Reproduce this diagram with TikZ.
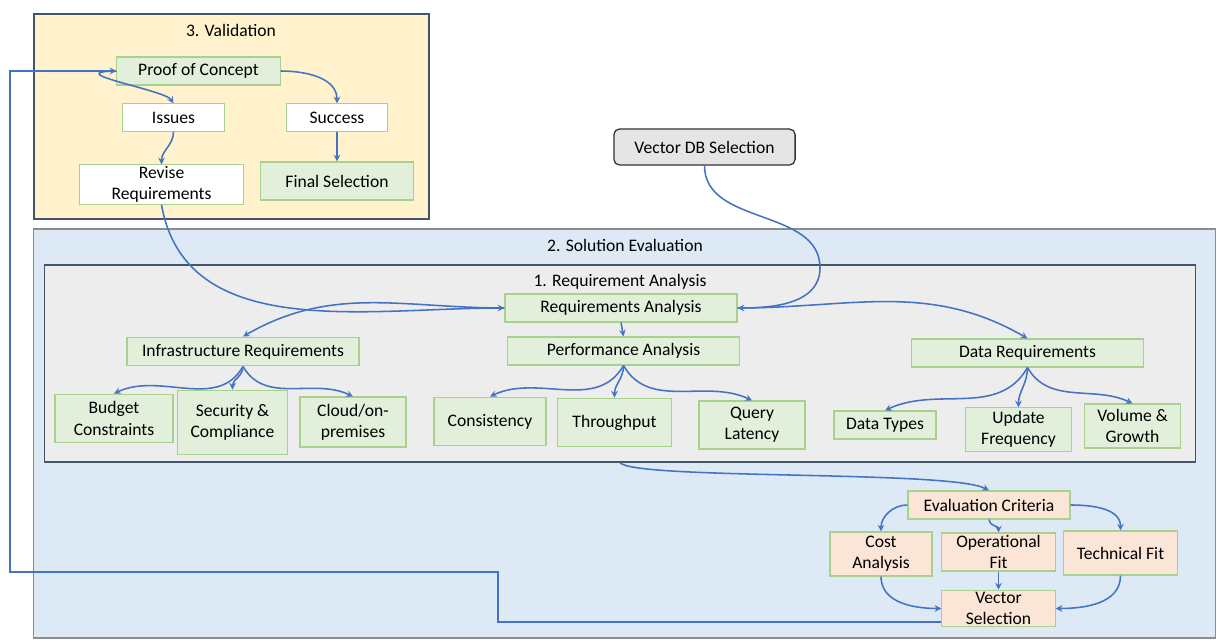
\documentclass[tikz,border=0pt]{standalone}
\usepackage{fontspec}
\setmainfont{Carlito}
\usetikzlibrary{positioning}
\definecolor{lnblue}{HTML}{4472C4}
\definecolor{grnfill}{HTML}{E2EFDA}
\definecolor{grnline}{HTML}{A9D18E}
\definecolor{orgfill}{HTML}{FBE5D6}
\definecolor{yelfill}{HTML}{FFF2CC}
\definecolor{bluefill}{HTML}{DEE9F6}
\definecolor{grayfill}{HTML}{EDEDED}
\definecolor{slate}{HTML}{44546A}
\tikzset{%
  arr/.style = {-stealth, lnblue, line width=1.1pt},
  gbox/.style = {rectangle, draw=grnline, fill=grnfill, line width=0.8pt,
        inner sep=0pt, align=center},
  wbox/.style = {gbox, fill=white},
  obox/.style = {gbox, fill=orgfill},
  frame/.style = {rectangle, inner sep=0pt, line width=0.9pt}
}

\begin{document}
\begin{tikzpicture}[x=0.025cm, y=-0.025cm,
  font=\fontsize{12.5}{15}\selectfont, text=black
]
\useasboundingbox (0,0) rectangle (1217,642);

\node[frame, draw=slate, fill=yelfill, minimum width=9.875cm,
      minimum height=5.125cm] (valbox) at (231.5,116.5) {};
\node (valtitle) at (231,30) {3. Validation};
\node[frame, draw=black!45, fill=bluefill, minimum width=29.525cm,
      minimum height=10.225cm] (solbox) at (624.5,433.5) {};
\node (soltitle) at (625,245) {2. Solution Evaluation};
\node[frame, draw=slate, fill=grayfill, minimum width=28.75cm,
      minimum height=4.925cm] (reqbox) at (620,363.5) {};
\node (reqtitle) at (620,282) {1. Requirement Analysis};

\node[gbox, minimum width=4.08cm, minimum height=0.7cm] (poc) at (198.5,71) {Proof of Concept};
\node[wbox, minimum width=2.53cm, minimum height=0.68cm] (issues) at (173.5,117.5) {Issues};
\node[wbox, minimum width=2.53cm, minimum height=0.68cm] (success) at (337,117.5) {Success};
\node[wbox, minimum width=4.08cm, minimum height=0.98cm] (revise) at (161.5,184.5) {Revise\\Requirements};
\node[gbox, minimum width=3.83cm, minimum height=0.95cm] (final) at (337,181) {Final Selection};

\node[rectangle, rounded corners=4pt, draw=black!80, fill=black!10, line width=0.9pt,
      minimum width=4.53cm, minimum height=0.9cm] (vdb) at (704.5,147) {Vector DB Selection};

\node[gbox, minimum width=5.8cm, minimum height=0.7cm] (reqa) at (621,308) {Requirements Analysis};
\node[gbox, minimum width=5.8cm, minimum height=0.72cm] (infra) at (243,351.5) {Infrastructure Requirements};
\node[gbox, minimum width=5.78cm, minimum height=0.7cm] (perf) at (623.5,351) {Performance Analysis};
\node[gbox, minimum width=5.78cm, minimum height=0.7cm] (datareq) at (1027.5,353) {Data Requirements};

\node[gbox, minimum width=2.95cm, minimum height=1.22cm] (budget) at (114,418.5) {Budget\\Constraints};
\node[gbox, minimum width=2.73cm, minimum height=1.62cm] (security) at (232.5,422.5) {Security \&\\Compliance};
\node[gbox, minimum width=2.65cm, minimum height=1.25cm] (cloud) at (353,422) {Cloud/on-\\premises};
\node[gbox, minimum width=2.8cm, minimum height=1.22cm] (consist) at (490,421.5) {Consistency};
\node[gbox, minimum width=2.83cm, minimum height=1.22cm] (thru) at (614.5,422.5) {Throughput};
\node[gbox, minimum width=2.65cm, minimum height=1.2cm] (query) at (752,425) {Query\\Latency};
\node[gbox, minimum width=2.55cm, minimum height=0.7cm] (dtypes) at (885,425) {Data Types};
\node[gbox, minimum width=2.63cm, minimum height=1.08cm] (update) at (1018.5,429.5) {Update\\Frequency};
\node[gbox, minimum width=2.38cm, minimum height=1.1cm] (volume) at (1132.5,426) {Volume \&\\Growth};

\node[obox, minimum width=4.05cm, minimum height=0.7cm] (evalc) at (989,505) {Evaluation Criteria};
\node[obox, minimum width=2.55cm, minimum height=1.1cm] (cost) at (881,554) {Cost\\Analysis};
\node[obox, minimum width=2.83cm, minimum height=0.95cm] (oper) at (998.5,552) {Operational\\Fit};
\node[obox, minimum width=2.83cm, minimum height=1.1cm] (tech) at (1120.5,553) {Technical Fit};
\node[obox, minimum width=2.83cm, minimum height=0.92cm] (vsel) at (998.5,608.5) {Vector\\Selection};

\coordinate (vdbturn) at (820,268);
\coordinate (vout) at ([yshift=-0.34cm]vsel.west);

\draw[arr] (poc.east) to[out=0, in=90] (success.north);
\draw[arr] (poc.west) .. controls (58,72) and (165,90) .. (issues.north);
\draw[arr] (issues.south) to[out=-90, in=90] (revise.north);
\draw[arr] (success.south) -- (final.north);
\draw[arr] (revise.south) to[out=-80, in=180] (reqa.west);
\draw[arr] (vdb.south) to[out=-90, in=90] (vdbturn) to[out=-90, in=0] (reqa.east);

\draw[arr] (reqa.west) to[out=180, in=30] (infra.north);
\draw[arr] (reqa.south) -- (perf.north);
\draw[arr] (reqa.east) to[out=0, in=150] (datareq.north);

\draw[arr] (infra.south) to[out=-120, in=25] (budget.north);
\draw[arr] (infra.south) to[out=-90, in=90] (security.north);
\draw[arr] (infra.south) to[out=-60, in=155] (cloud.north);
\draw[arr] (perf.south) to[out=-120, in=25] (consist.north);
\draw[arr] (perf.south) to[out=-90, in=90] (thru.north);
\draw[arr] (perf.south) to[out=-60, in=155] (query.north);
\draw[arr] (datareq.south) to[out=-120, in=25] (dtypes.north);
\draw[arr] (datareq.south) to[out=-90, in=90] (update.north);
\draw[arr] (datareq.south) to[out=-60, in=155] (volume.north);

\draw[arr] (reqbox.south) .. controls (635,480) and (950,470) .. (evalc.north);
\draw[arr] (evalc.west) to[out=180, in=90] (cost.north);
\draw[arr] (evalc.south) to[out=-90, in=90] (oper.north);
\draw[arr] (evalc.east) to[out=0, in=90] (tech.north);
\draw[arr] (cost.south) to[out=-90, in=180] (vsel.west);
\draw[arr] (oper.south) -- (vsel.north);
\draw[arr] (tech.south) to[out=-90, in=0] (vsel.east);

\draw[arr] (vout) -| (498,572) -| (10,71) -- (poc.west);
\end{tikzpicture}
\end{document}
